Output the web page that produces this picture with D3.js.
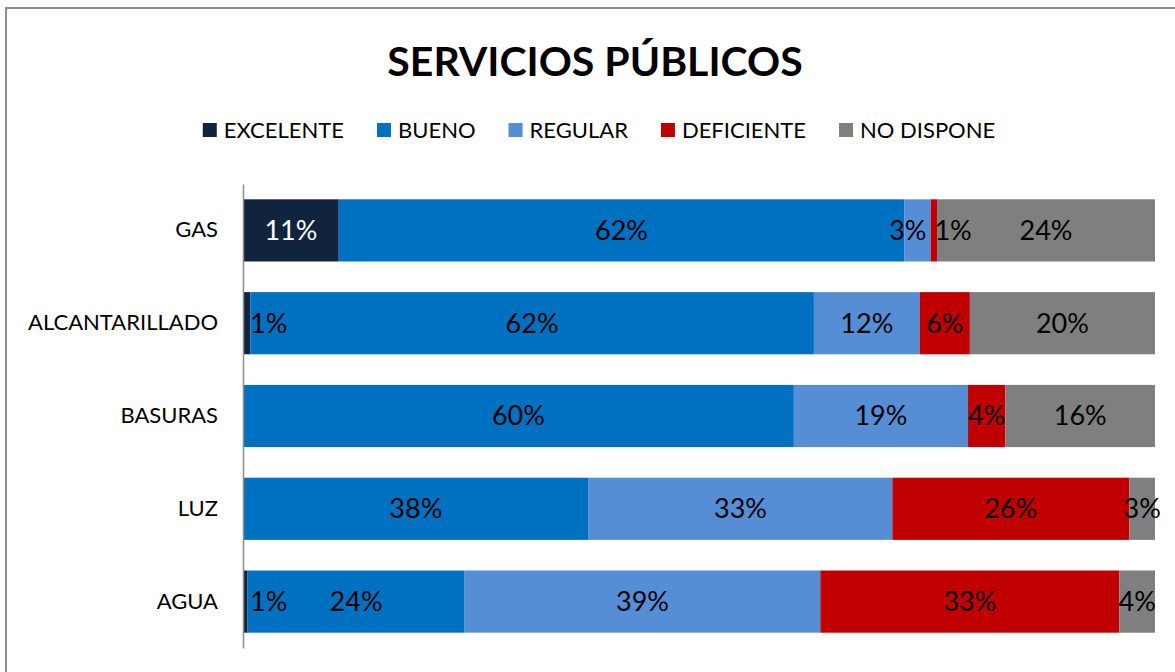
<!DOCTYPE html>
<meta charset="utf-8">
<style>
body { margin: 0; background: #fff; }
svg { font-family: Lato, "Open Sans", sans-serif; }
</style>
<body>
<script src="https://d3js.org/d3.v7.min.js"></script>
<script>

// data (percent of answers)
var categories = ["GAS", "ALCANTARILLADO", "BASURAS", "LUZ", "AGUA"];
var seriesNames = ["EXCELENTE", "BUENO", "REGULAR", "DEFICIENTE", "NO DISPONE"];
var seriesColors = ["#10243e", "#0070c0", "#558ed5", "#c00000", "#7f7f7f"];

var excelente  = [10.5,  0.8,  0.0,  0.0,  0.5];
var bueno      = [62.0, 61.8, 60.4, 37.9, 23.8];
var regular    = [ 2.9, 11.6, 19.1, 33.3, 39.0];
var deficiente = [ 0.7,  5.5,  4.1, 26.0, 32.8];
var noDispone  = [23.9, 20.3, 16.4,  2.8,  3.9];

var seriesValues = [excelente, bueno, regular, deficiente, noDispone];

var W = 1175, H = 672;
var margin = {top: 184, right: 20, bottom: 24, left: 243},
    plotRight = 1155;

var svg = d3.select("body").append("svg")
    .attr("width", W)
    .attr("height", H);

// outer frame (only top and left edges are in view)
svg.append("rect")
    .attr("x", 6).attr("y", 8)
    .attr("width", W + 20).attr("height", H + 20)
    .attr("fill", "#fff")
    .attr("stroke", "#8c8c8c")
    .attr("stroke-width", 2);

// table for the stack
var table = categories.map(function(c, i) {
  var row = {cat: c};
  seriesNames.forEach(function(s, j) { row[s] = seriesValues[j][i]; });
  return row;
});
var stacked = d3.stack().keys(seriesNames)(table);

var x = d3.scaleLinear()
    .domain([0, 100])
    .range([margin.left, plotRight]);

var y = d3.scaleBand()
    .domain(categories)
    .range([margin.top, H - margin.bottom])
    .paddingInner(0.33)
    .paddingOuter(0.165);

var color = d3.scaleOrdinal().domain(seriesNames).range(seriesColors);

// title
svg.append("text")
    .attr("x", 595)
    .attr("y", 76)
    .attr("text-anchor", "middle")
    .attr("font-weight", "bold")
    .attr("font-size", 41)
    .attr("fill", "#000")
    .text("SERVICIOS PÚBLICOS");

// legend, centred under the title
var legend = svg.append("g").attr("class", "legend");
var items = legend.selectAll("g")
    .data(seriesNames)
  .enter().append("g");
items.append("rect")
    .attr("width", 14).attr("height", 14)
    .attr("y", 123)
    .attr("fill", function(d) { return color(d); });
items.append("text")
    .attr("x", 21)
    .attr("y", 138)
    .attr("font-size", 22)
    .attr("fill", "#000")
    .text(function(d) { return d; });

var pos = 0, offsets = [];
items.each(function() {
  offsets.push(pos);
  pos += 21 + this.querySelector("text").getComputedTextLength() + 33;
});
var legendWidth = pos - 33;
items.attr("transform", function(d, i) {
  return "translate(" + (599 - legendWidth / 2 + offsets[i]) + ",0)";
});

// bars
var layers = svg.append("g").selectAll("g")
    .data(stacked)
  .enter().append("g")
    .attr("fill", function(d) { return color(d.key); });

layers.selectAll("rect")
    .data(function(d) { return d; })
  .enter().append("rect")
    .attr("x", function(d) { return x(d[0]); })
    .attr("y", function(d) { return y(d.data.cat); })
    .attr("width", function(d) { return x(d[1]) - x(d[0]); })
    .attr("height", y.bandwidth());

// category axis
var yAxis = svg.append("g")
    .attr("transform", "translate(" + margin.left + ",0)")
    .call(d3.axisLeft(y).tickSize(0).tickPadding(25));
yAxis.select(".domain").attr("stroke", "#8c8c8c").attr("stroke-width", 1.5);
yAxis.selectAll("text")
    .attr("font-size", 22)
    .attr("font-family", "Lato, 'Open Sans', sans-serif")
    .attr("fill", "#000");

// data labels, nudged apart where small segments crowd together
var labelLayer = svg.append("g");
categories.forEach(function(cat, ci) {
  var labs = [];
  stacked.forEach(function(layer, si) {
    var d = layer[ci];
    if (d[1] - d[0] <= 0) return;
    var t = labelLayer.append("text")
        .attr("font-size", 27)
        .attr("text-anchor", "middle")
        .attr("dy", "0.35em")
        .attr("y", y(cat) + y.bandwidth() / 2)
        .text(Math.round(d[1] - d[0]) + "%");
    var w = t.node().getComputedTextLength();
    labs.push({node: t, cx: (x(d[0]) + x(d[1])) / 2, w: w,
               seg: x(d[1]) - x(d[0]), si: si});
  });
  for (var k = 0; k < 5; k++) {
    if (labs[0].cx - labs[0].w / 2 < margin.left + 7 && labs[0].seg < labs[0].w)
      labs[0].cx = margin.left + 7 + labs[0].w / 2;
    for (var i = 1; i < labs.length; i++) {
      var a = labs[i - 1], b = labs[i];
      var ov = (a.cx + a.w / 2 + 8) - (b.cx - b.w / 2);
      if (ov > 0) { a.cx -= ov / 3; b.cx += 2 * ov / 3; }
    }
  }
  labs.forEach(function(l) {
    l.node.attr("x", l.cx)
        .attr("fill", (l.si === 0 && l.seg > l.w) ? "#fff" : "#000");
  });
});

</script>
</body>
